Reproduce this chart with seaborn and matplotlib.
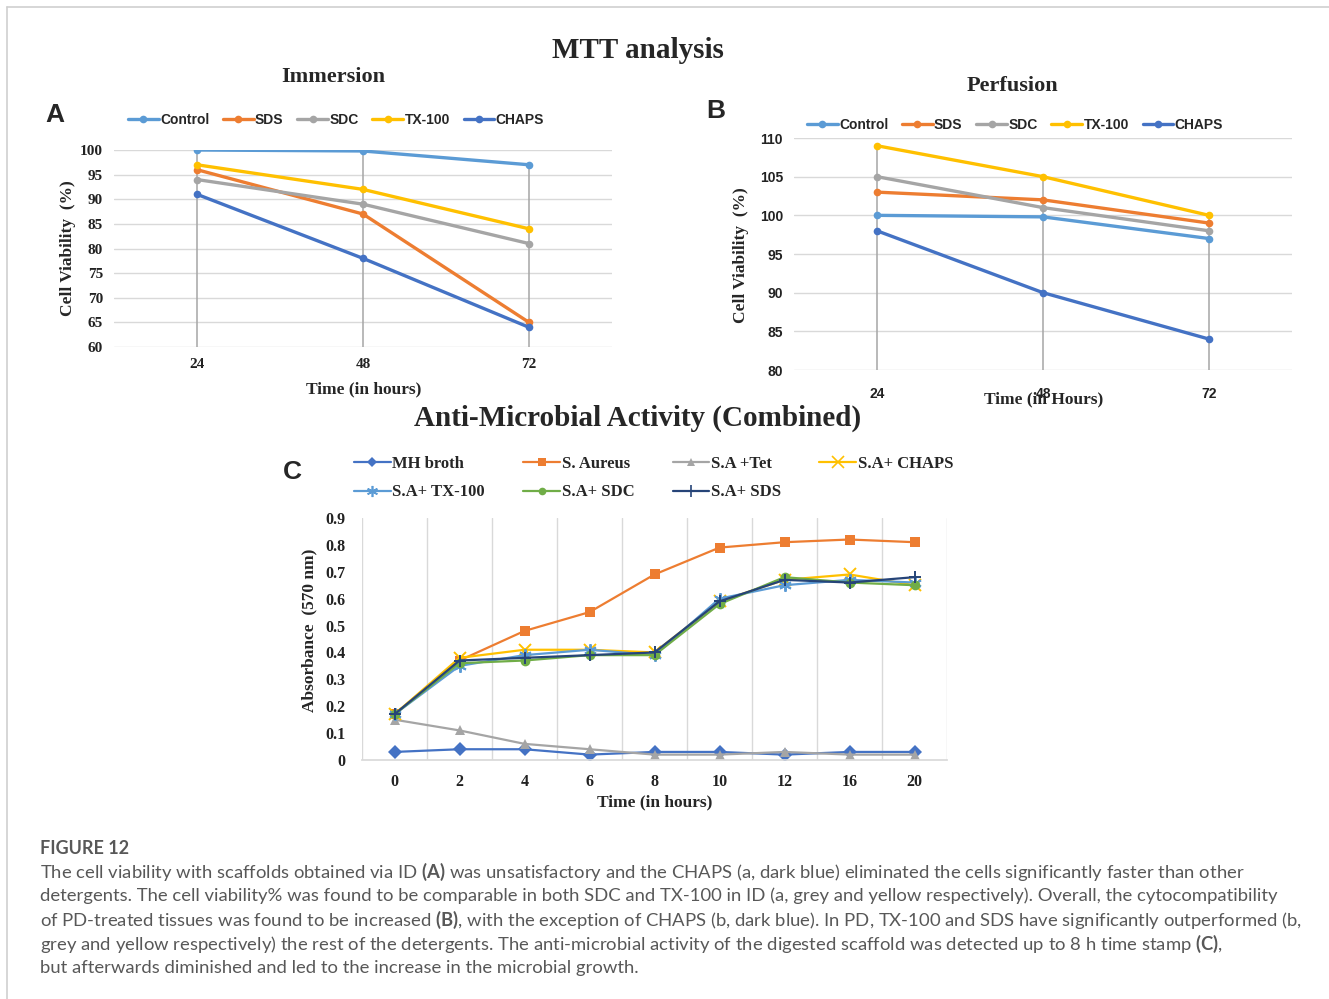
import pandas as pd
import numpy as np
import matplotlib
matplotlib.use("Agg")
import matplotlib.pyplot as plt
from matplotlib.lines import Line2D
import seaborn as sns

# ---- data: MTT analysis (panels A and B) ----
mtt_hours = ["24", "48", "72"]
mtt_series = ["Control", "SDS", "SDC", "TX-100", "CHAPS"]
immersion_control = [100, 99.8, 97]
immersion_sds = [96, 87, 65]
immersion_sdc = [94, 89, 81]
immersion_tx100 = [97, 92, 84]
immersion_chaps = [91, 78, 64]
perfusion_control = [100, 99.8, 97]
perfusion_sds = [103, 102, 99]
perfusion_sdc = [105, 101, 98]
perfusion_tx100 = [109, 105, 100]
perfusion_chaps = [98, 90, 84]

# ---- data: anti-microbial activity (panel C) ----
amb_hours = ["0", "2", "4", "6", "8", "10", "12", "16", "20"]
amb_series = ["MH broth", "S. Aureus", "S.A +Tet", "S.A+ CHAPS",
              "S.A+ TX-100", "S.A+ SDC", "S.A+ SDS"]
mh_broth = [0.03, 0.04, 0.04, 0.02, 0.03, 0.03, 0.02, 0.03, 0.03]
s_aureus = [0.17, 0.37, 0.48, 0.55, 0.69, 0.79, 0.81, 0.82, 0.81]
sa_tet = [0.15, 0.11, 0.06, 0.04, 0.02, 0.02, 0.03, 0.02, 0.02]
sa_chaps = [0.17, 0.38, 0.41, 0.41, 0.40, 0.59, 0.67, 0.69, 0.65]
sa_tx100 = [0.17, 0.35, 0.39, 0.41, 0.39, 0.60, 0.65, 0.67, 0.66]
sa_sdc = [0.17, 0.36, 0.37, 0.39, 0.39, 0.58, 0.68, 0.66, 0.65]
sa_sds = [0.17, 0.37, 0.38, 0.39, 0.40, 0.59, 0.67, 0.66, 0.68]

mtt_colors = {"Control": "#5B9BD5", "SDS": "#ED7D31", "SDC": "#A5A5A5",
              "TX-100": "#FFC000", "CHAPS": "#4472C4"}
amb_colors = {"MH broth": "#4472C4", "S. Aureus": "#ED7D31", "S.A +Tet": "#A5A5A5",
              "S.A+ CHAPS": "#FFC000", "S.A+ TX-100": "#5B9BD5",
              "S.A+ SDC": "#70AD47", "S.A+ SDS": "#264478"}
amb_markers = {"MH broth": "D", "S. Aureus": "s", "S.A +Tet": "^",
               "S.A+ CHAPS": "x", "S.A+ TX-100": (6, 2, 0),
               "S.A+ SDC": "o", "S.A+ SDS": "+"}


def long_df(hours, series, values):
    rows = []
    for name, vals in zip(series, values):
        for i, (h, v) in enumerate(zip(hours, vals)):
            rows.append({"pos": i, "hour": h, "series": name, "value": v})
    return pd.DataFrame(rows)


df_imm = long_df(mtt_hours, mtt_series,
                 [immersion_control, immersion_sds, immersion_sdc, immersion_tx100, immersion_chaps])
df_per = long_df(mtt_hours, mtt_series,
                 [perfusion_control, perfusion_sds, perfusion_sdc, perfusion_tx100, perfusion_chaps])
df_amb = long_df(amb_hours, amb_series,
                 [mh_broth, s_aureus, sa_tet, sa_chaps, sa_tx100, sa_sdc, sa_sds])

sns.set_theme(style="white")
plt.rcParams["font.family"] = ["Liberation Serif", "DejaVu Serif"]
plt.rcParams["mathtext.fontset"] = "custom"
plt.rcParams["mathtext.bf"] = "Lato:bold"
plt.rcParams["mathtext.rm"] = "Lato"

W, H = 1329, 999
fig = plt.figure(figsize=(W / 100, H / 100), dpi=100)


def ax_px(l, t, r, b):
    return fig.add_axes([l / W, 1 - b / H, (r - l) / W, (b - t) / H])


def fx(x):
    return x / W


def fy(y):
    return 1 - y / H


serif_b = dict(family=["Liberation Serif"], fontweight="bold")
sans_b = dict(family=["Liberation Sans"], fontweight="bold")

# frame lines (top and left)
fig.add_artist(Line2D([fx(7), 1], [fy(7), fy(7)], color="#CFCFCF", lw=1.2))
fig.add_artist(Line2D([fx(7), fx(7)], [fy(7), 0], color="#CFCFCF", lw=1.2))


def style_ticks(ax, family, size):
    for lab in ax.get_xticklabels() + ax.get_yticklabels():
        lab.set_family(family)
        lab.set_fontweight("bold")
        lab.set_fontsize(size)
        lab.set_color("#222222")


def mtt_panel(ax, df, ymin, ymax, step, family, size):
    sns.lineplot(data=df, x="pos", y="value", hue="series", palette=mtt_colors,
                 marker="o", markersize=5.5, markeredgewidth=0, linewidth=2.4,
                 legend=False, ax=ax, zorder=3)
    # drop lines
    tops = df.groupby("pos")["value"].max()
    ax.vlines(tops.index, ymin, tops.values, color="#A6A6A6", lw=1.1, zorder=2)
    ax.set_xlim(-0.5, 2.5)
    ax.set_ylim(ymin, ymax)
    ax.set_yticks(np.arange(ymin, ymax + 0.1, step))
    ax.set_xticks(range(len(mtt_hours)))
    ax.set_xticklabels(mtt_hours)
    ax.grid(axis="y", color="#D9D9D9", lw=1)
    ax.grid(axis="x", visible=False)
    for s in ax.spines.values():
        s.set_visible(False)
    ax.tick_params(length=0)
    style_ticks(ax, family, size)
    ax.set_xlabel("")
    ax.set_ylabel("")


def mtt_legend(ax, x, y):
    handles = [Line2D([], [], color=mtt_colors[s], lw=2.4, marker="o", ms=5.5,
                      markeredgewidth=0) for s in mtt_series]
    leg = ax.legend(handles, mtt_series, ncol=5, frameon=False, loc="center",
                    bbox_to_anchor=(x, y), bbox_transform=fig.transFigure,
                    handlelength=2.2, handletextpad=0.1, columnspacing=1.0,
                    prop=dict(family="Liberation Sans", weight="bold", size=10))
    for t in leg.get_texts():
        t.set_color("#262626")


# ---- Panel A: Immersion ----
axA = ax_px(114, 150, 612, 347)
mtt_panel(axA, df_imm, 60, 100, 5, ["Liberation Serif"], 11)
axA.tick_params(axis="y", pad=8)
axA.tick_params(axis="x", pad=8)
mtt_legend(axA, fx(336), fy(120))
fig.text(fx(333), fy(77), "Immersion", ha="center", va="center", fontsize=16, **serif_b)
fig.text(fx(364), fy(389), "Time (in hours)", ha="center", va="center", fontsize=12.5, **serif_b)
fig.text(fx(68), fy(248), "Cell Viability  (%)", ha="center", va="center",
         rotation=90, fontsize=12.5, **serif_b)
fig.text(fx(55), fy(115), "A", ha="center", va="center", fontsize=19, **sans_b)

# ---- Panel B: Perfusion ----
axB = ax_px(794, 138, 1292, 370)
mtt_panel(axB, df_per, 80, 110, 5, ["Liberation Sans"], 10)
axB.tick_params(axis="y", pad=8)
axB.tick_params(axis="x", pad=12)
mtt_legend(axB, fx(1015), fy(125))
fig.text(fx(1012), fy(86), "Perfusion", ha="center", va="center", fontsize=16, **serif_b)
fig.text(fx(1044), fy(399), "Time (in Hours)", ha="center", va="center", fontsize=12.5, **serif_b)
fig.text(fx(741), fy(255), "Cell Viability  (%)", ha="center", va="center",
         rotation=90, fontsize=12.5, **serif_b)
fig.text(fx(716), fy(111), "B", ha="center", va="center", fontsize=19, **sans_b)

fig.text(fx(638), fy(51), "MTT analysis", ha="center", va="center", fontsize=21, **serif_b)

# ---- Panel C: Anti-microbial activity ----
axC = ax_px(362, 518, 947, 760)


def is_line_marker(m):
    return m in ("x", "+") or isinstance(m, tuple)


for s in amb_series:
    m = amb_markers[s]
    kw = dict(markersize=9, markeredgewidth=1.4, markeredgecolor=amb_colors[s]) \
        if is_line_marker(m) else dict(markersize=7, markeredgewidth=0)
    sns.lineplot(data=df_amb[df_amb["series"] == s], x="pos", y="value",
                 color=amb_colors[s], marker=m, linewidth=1.6, legend=False,
                 ax=axC, **kw)
axC.set_xlim(-0.5, len(amb_hours) - 0.5)
axC.set_ylim(0, 0.9)
axC.set_yticks(np.arange(0, 0.91, 0.1))
axC.set_yticklabels(["0"] + [f"{v:.1f}" for v in np.arange(0.1, 0.91, 0.1)])
axC.set_xticks(range(len(amb_hours)))
axC.set_xticklabels(amb_hours)
axC.set_xticks(np.arange(-0.5, len(amb_hours)), minor=True)
axC.grid(axis="x", which="minor", color="#D9D9D9", lw=1)
axC.grid(axis="x", which="major", visible=False)
axC.grid(axis="y", visible=False)
for k, sp in axC.spines.items():
    sp.set_visible(k == "bottom")
axC.spines["bottom"].set_color("#D9D9D9")
axC.tick_params(length=0, which="both")
axC.tick_params(axis="y", pad=12)
axC.tick_params(axis="x", pad=10)
style_ticks(axC, ["Liberation Serif"], 11.5)
axC.set_xlabel("")
axC.set_ylabel("")

order = ["MH broth", "S.A+ TX-100", "S. Aureus", "S.A+ SDC", "S.A +Tet", "S.A+ SDS", "S.A+ CHAPS"]
c_handles = []
for s in order:
    m = amb_markers[s]
    lined = is_line_marker(m)
    c_handles.append(Line2D([], [], color=amb_colors[s], lw=1.6, marker=m,
                            ms=8 if lined else 5.5,
                            markeredgewidth=1.2 if lined else 0,
                            markeredgecolor=amb_colors[s]))
legC = axC.legend(c_handles, order, ncol=4, frameon=False, loc="upper left",
                  bbox_to_anchor=(fx(339), fy(441)), bbox_transform=fig.transFigure,
                  handlelength=2.2, handletextpad=0.1, columnspacing=2.3,
                  labelspacing=0.75,
                  prop=dict(family="Liberation Serif", weight="bold", size=12))

fig.text(fx(638), fy(418), "Anti-Microbial Activity (Combined)", ha="center", va="center",
         fontsize=21, **serif_b)
fig.text(fx(655), fy(802), "Time (in hours)", ha="center", va="center", fontsize=12.5, **serif_b)
fig.text(fx(309), fy(630), "Absorbance  (570 nm)", ha="center", va="center",
         rotation=90, fontsize=12.5, **serif_b)
fig.text(fx(292), fy(472), "C", ha="center", va="center", fontsize=19, **sans_b)

# ---- caption ----
cap_font = dict(family=["Lato", "DejaVu Sans"], color="#585858")
fig.text(fx(40), fy(848), "FIGURE 12", ha="left", va="center", fontsize=13,
         fontweight="bold", **cap_font)
caption = [
    r"The cell viability with scaffolds obtained via ID $\mathbf{(A)}$ was unsatisfactory and the CHAPS (a, dark blue) eliminated the cells significantly faster than other",
    "detergents. The cell viability% was found to be comparable in both SDC and TX-100 in ID (a, grey and yellow respectively). Overall, the cytocompatibility",
    r"of PD-treated tissues was found to be increased $\mathbf{(B)}$, with the exception of CHAPS (b, dark blue). In PD, TX-100 and SDS have significantly outperformed (b,",
    r"grey and yellow respectively) the rest of the detergents. The anti-microbial activity of the digested scaffold was detected up to 8 h time stamp $\mathbf{(C)}$,",
    "but afterwards diminished and led to the increase in the microbial growth.",
]
for i, line in enumerate(caption):
    fig.text(fx(40), fy(872 + 24 * i), line, ha="left", va="center", fontsize=13.3, **cap_font)

fig.savefig("out.png", dpi=100)
